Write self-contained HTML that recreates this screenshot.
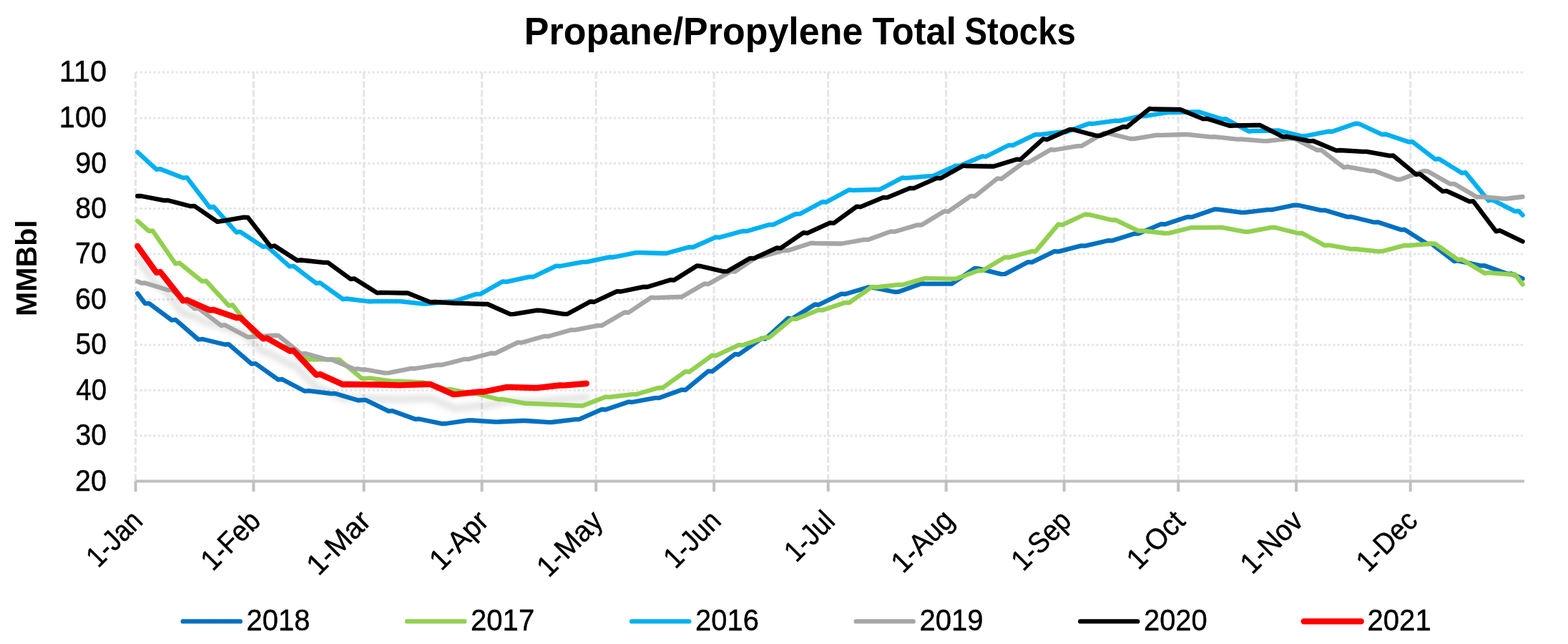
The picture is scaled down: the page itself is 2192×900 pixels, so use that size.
<!DOCTYPE html>
<html lang="en"><head><meta charset="utf-8"><title>Propane/Propylene Total Stocks</title>
<style>html,body{margin:0;padding:0;background:#fff}body{width:2192px;height:900px;overflow:hidden}svg{display:block}text{font-family:"Liberation Sans",sans-serif;fill:#000}</style>
</head><body>
<svg width="2192" height="900" viewBox="0 0 2192 900">
<defs><filter id="sh" x="-5%" y="-30%" width="110%" height="170%"><feGaussianBlur stdDeviation="4.4"/></filter><clipPath id="pc"><rect x="190" y="95" width="1941" height="578"/></clipPath></defs>
<rect width="2192" height="900" fill="#fff"/>
<g stroke="#E5E5E5" stroke-width="3" fill="none">
<line x1="189.5" y1="101.00" x2="2130" y2="101.00" stroke-dasharray="3.123 3.123"/>
<line x1="189.5" y1="165.00" x2="2130" y2="165.00" stroke-dasharray="3.123 3.123"/>
<line x1="189.5" y1="228.30" x2="2130" y2="228.30" stroke-dasharray="3.123 3.123"/>
<line x1="189.5" y1="291.50" x2="2130" y2="291.50" stroke-dasharray="3.123 3.123"/>
<line x1="189.5" y1="355.00" x2="2130" y2="355.00" stroke-dasharray="3.123 3.123"/>
<line x1="189.5" y1="418.60" x2="2130" y2="418.60" stroke-dasharray="3.123 3.123"/>
<line x1="189.5" y1="482.00" x2="2130" y2="482.00" stroke-dasharray="3.123 3.123"/>
<line x1="189.5" y1="545.40" x2="2130" y2="545.40" stroke-dasharray="3.123 3.123"/>
<line x1="189.5" y1="609.00" x2="2130" y2="609.00" stroke-dasharray="3.123 3.123"/>
<line x1="189.50" y1="101" x2="189.50" y2="672" stroke-dasharray="9.36 3.12"/>
<line x1="354.42" y1="101" x2="354.42" y2="672" stroke-dasharray="9.36 3.12"/>
<line x1="508.70" y1="101" x2="508.70" y2="672" stroke-dasharray="9.36 3.12"/>
<line x1="673.62" y1="101" x2="673.62" y2="672" stroke-dasharray="9.36 3.12"/>
<line x1="833.22" y1="101" x2="833.22" y2="672" stroke-dasharray="9.36 3.12"/>
<line x1="998.14" y1="101" x2="998.14" y2="672" stroke-dasharray="9.36 3.12"/>
<line x1="1157.74" y1="101" x2="1157.74" y2="672" stroke-dasharray="9.36 3.12"/>
<line x1="1322.66" y1="101" x2="1322.66" y2="672" stroke-dasharray="9.36 3.12"/>
<line x1="1487.58" y1="101" x2="1487.58" y2="672" stroke-dasharray="9.36 3.12"/>
<line x1="1647.18" y1="101" x2="1647.18" y2="672" stroke-dasharray="9.36 3.12"/>
<line x1="1812.10" y1="101" x2="1812.10" y2="672" stroke-dasharray="9.36 3.12"/>
<line x1="1971.70" y1="101" x2="1971.70" y2="672" stroke-dasharray="9.36 3.12"/>
</g>
<g stroke="#BFBFBF" stroke-width="4" fill="none">
<line x1="189.6" y1="672.6" x2="2131" y2="672.6"/>
<line x1="189.50" y1="672.6" x2="189.50" y2="687"/>
<line x1="354.42" y1="672.6" x2="354.42" y2="687"/>
<line x1="508.70" y1="672.6" x2="508.70" y2="687"/>
<line x1="673.62" y1="672.6" x2="673.62" y2="687"/>
<line x1="833.22" y1="672.6" x2="833.22" y2="687"/>
<line x1="998.14" y1="672.6" x2="998.14" y2="687"/>
<line x1="1157.74" y1="672.6" x2="1157.74" y2="687"/>
<line x1="1322.66" y1="672.6" x2="1322.66" y2="687"/>
<line x1="1487.58" y1="672.6" x2="1487.58" y2="687"/>
<line x1="1647.18" y1="672.6" x2="1647.18" y2="687"/>
<line x1="1812.10" y1="672.6" x2="1812.10" y2="687"/>
<line x1="1971.70" y1="672.6" x2="1971.70" y2="687"/>
</g>
<g fill="none" stroke-linejoin="round" stroke-linecap="round">
<g clip-path="url(#pc)"><path d="M192.2,343.8 L218.8,381.0 L224.1,380.0 L256.0,420.3 L261.3,419.2 L293.2,433.4 L298.6,433.0 L330.5,444.0 L335.8,443.8 L367.7,473.3 L373.0,472.5 L405.0,490.5 L410.3,490.0 L442.2,523.9 L447.5,523.0 L479.4,537.4 L484.8,537.0 L506.0,537.3 L511.4,537.3 L522.0,537.5 L527.3,537.5 L559.2,538.3 L564.6,538.2 L596.5,537.0 L601.8,537.0 L633.7,551.1 L639.0,550.8 L671.0,547.4 L676.3,547.5 L708.2,541.1 L713.5,541.2 L745.4,542.0 L750.8,542.0 L782.7,538.5 L788.0,538.6 L819.9,536.0" stroke="#000" stroke-opacity="0.128" stroke-width="8.3" filter="url(#sh)" transform="translate(1.5,19.5)"/></g>
<path d="M192.2,410.0 L202.8,424.1 L208.1,423.8 L240.0,447.4 L245.4,446.8 L277.3,474.5 L282.6,473.8 L314.5,481.5 L319.8,481.2 L351.8,508.7 L357.1,508.0 L389.0,530.6 L394.3,530.0 L426.2,546.7 L431.6,546.2 L463.5,550.1 L468.8,550.0 L500.7,559.5 L506.0,559.2 L511.4,559.2 L543.3,574.7 L548.6,574.2 L580.5,585.8 L585.8,585.5 L617.8,592.2 L623.1,592.0 L655.0,587.4 L660.3,587.5 L692.2,589.6 L697.6,589.5 L729.5,588.0 L734.8,588.0 L766.7,590.1 L772.0,590.0 L804.0,586.1 L809.3,586.2 L841.2,572.1 L846.5,572.5 L878.4,561.7 L883.8,562.0 L915.7,556.1 L921.0,556.2 L952.9,544.7 L958.2,545.0 L990.2,518.6 L995.5,519.2 L1027.4,494.9 L1032.7,495.5 L1064.6,472.9 L1070.0,473.5 L1101.9,444.7 L1107.2,445.5 L1139.1,425.5 L1144.4,426.0 L1176.4,410.6 L1181.7,411.0 L1213.6,401.4 L1218.9,401.7 L1250.8,408.0 L1256.2,407.8 L1288.1,396.3 L1293.4,396.6 L1330.6,396.6 L1362.6,374.8 L1367.9,375.4 L1399.8,383.1 L1405.1,382.9 L1437.0,366.2 L1442.4,366.6 L1474.3,351.2 L1479.6,351.6 L1511.5,343.4 L1516.8,343.6 L1548.8,336.2 L1554.1,336.4 L1586.0,326.4 L1591.3,326.6 L1623.2,313.1 L1628.6,313.5 L1660.5,303.1 L1665.8,303.4 L1697.7,292.4 L1703.0,292.7 L1735.0,296.9 L1740.3,296.8 L1772.2,293.2 L1777.5,293.2 L1809.4,286.6 L1814.8,286.8 L1846.7,293.9 L1852.0,293.8 L1883.9,303.2 L1889.2,303.0 L1921.2,310.7 L1926.5,310.5 L1958.4,321.1 L1963.7,320.8 L1995.6,341.1 L2001.0,340.6 L2032.9,365.0 L2038.2,364.4 L2070.1,371.4 L2075.4,371.2 L2107.4,382.8 L2112.7,382.5 L2128.6,389.4" stroke="#0070C0" stroke-width="6.3"/>
<path d="M192.2,308.8 L208.1,322.9 L213.4,322.5 L245.4,368.7 L250.7,367.5 L282.6,393.2 L287.9,392.5 L319.8,427.2 L325.2,426.2 L357.1,468.6 L362.4,467.5 L394.3,485.0 L399.6,484.5 L431.6,502.5 L436.9,502.0 L468.8,502.5 L474.1,502.5 L506.0,529.0 L511.4,529.0 L516.7,528.3 L548.6,532.8 L553.9,532.7 L585.8,534.2 L591.2,534.2 L623.1,544.1 L628.4,543.8 L660.3,550.2 L665.6,550.0 L697.6,558.2 L702.9,558.0 L734.8,563.9 L740.1,563.8 L772.0,565.3 L777.4,565.3 L809.3,567.0 L814.6,567.0 L846.5,554.7 L851.8,555.0 L883.8,551.1 L889.1,551.2 L921.0,541.8 L926.3,542.0 L958.2,519.1 L963.6,519.8 L995.5,496.6 L1000.8,497.2 L1032.7,482.1 L1038.0,482.5 L1070.0,471.5 L1075.3,471.8 L1107.2,445.3 L1112.5,446.0 L1144.4,433.2 L1149.8,433.5 L1181.7,422.8 L1187.0,423.1 L1218.9,400.9 L1224.2,401.5 L1256.2,397.9 L1261.5,398.0 L1293.4,388.9 L1298.7,389.1 L1330.6,389.7 L1336.0,389.6 L1367.9,378.1 L1373.2,378.4 L1405.1,359.4 L1410.4,359.9 L1442.4,351.2 L1447.7,351.4 L1479.6,313.4 L1484.9,314.4 L1516.8,299.5 L1522.2,299.9 L1554.1,307.5 L1559.4,307.3 L1591.3,322.7 L1596.6,322.3 L1628.6,326.0 L1633.9,325.9 L1665.8,318.0 L1671.1,318.2 L1703.0,317.9 L1708.4,317.9 L1740.3,323.9 L1745.6,323.8 L1777.5,317.8 L1782.8,318.0 L1814.8,326.0 L1820.1,325.8 L1852.0,343.0 L1857.3,342.5 L1889.2,348.1 L1894.6,348.0 L1926.5,351.3 L1931.8,351.2 L1963.7,342.9 L1969.0,343.1 L2001.0,340.5 L2006.3,340.6 L2038.2,363.1 L2043.5,362.5 L2075.4,381.8 L2080.8,381.2 L2112.7,383.6 L2118.0,383.5 L2128.6,397.5" stroke="#92D050" stroke-width="6.3"/>
<path d="M192.2,212.5 L218.8,236.9 L224.1,236.2 L256.0,248.6 L261.3,248.2 L293.2,289.8 L298.6,288.8 L330.5,324.7 L335.8,323.8 L367.7,344.8 L373.0,344.2 L405.0,372.5 L410.3,371.8 L442.2,395.9 L447.5,395.2 L479.4,418.1 L484.8,417.5 L516.7,421.4 L522.0,421.2 L559.2,421.2 L591.2,424.6 L596.5,424.5 L628.4,421.4 L633.7,421.5 L665.6,411.0 L671.0,411.2 L702.9,393.3 L708.2,393.8 L740.1,386.8 L745.4,387.0 L777.4,371.6 L782.7,372.0 L814.6,366.1 L819.9,366.2 L851.8,359.3 L857.2,359.5 L889.1,353.1 L894.4,353.2 L926.3,354.0 L931.6,354.0 L963.6,345.3 L968.9,345.5 L1000.8,331.4 L1006.1,331.8 L1038.0,323.0 L1043.4,323.2 L1075.3,314.0 L1080.6,314.2 L1112.5,298.8 L1117.8,299.2 L1149.8,282.0 L1155.1,282.5 L1187.0,265.3 L1192.3,265.8 L1224.2,265.0 L1229.6,265.0 L1261.5,248.3 L1266.8,248.8 L1298.7,246.2 L1304.0,246.2 L1336.0,231.6 L1341.3,232.0 L1373.2,218.4 L1378.5,218.8 L1410.4,202.8 L1415.8,203.2 L1447.7,187.8 L1453.0,188.2 L1484.9,184.4 L1490.2,184.5 L1522.2,172.7 L1527.5,173.0 L1559.4,168.6 L1564.7,168.8 L1596.6,161.8 L1602.0,162.0 L1633.9,156.9 L1639.2,157.0 L1671.1,156.5 L1676.4,156.5 L1708.4,166.5 L1713.7,166.2 L1745.6,183.5 L1750.9,183.0 L1782.8,182.5 L1788.2,182.5 L1820.1,190.2 L1825.4,190.0 L1857.3,183.6 L1862.6,183.8 L1894.6,172.7 L1899.9,173.0 L1931.8,187.9 L1937.1,187.5 L1969.0,198.3 L1974.4,198.0 L2006.3,222.6 L2011.6,222.0 L2043.5,241.8 L2048.8,241.2 L2080.8,280.3 L2086.1,279.2 L2118.0,295.4 L2123.3,295.0 L2128.6,300.6" stroke="#00B0F0" stroke-width="6.3"/>
<path d="M192.2,393.2 L197.5,395.6 L202.8,395.5 L234.7,405.3 L240.0,405.0 L272.0,431.4 L277.3,430.8 L309.2,454.9 L314.5,454.2 L346.4,471.2 L351.8,470.8 L383.7,468.7 L389.0,468.8 L420.9,494.4 L426.2,493.8 L458.2,502.7 L463.5,502.5 L495.4,515.9 L500.7,515.5 L506.0,516.5 L511.4,516.5 L538.0,521.4 L543.3,521.2 L575.2,514.8 L580.5,515.0 L612.4,509.9 L617.8,510.0 L649.7,501.8 L655.0,502.0 L686.9,493.5 L692.2,493.8 L724.2,478.3 L729.5,478.8 L761.4,469.8 L766.7,470.0 L798.6,461.0 L804.0,461.2 L835.9,454.8 L841.2,455.0 L873.1,436.5 L878.4,437.0 L910.4,415.7 L915.7,416.2 L947.6,415.0 L952.9,415.0 L984.8,396.5 L990.2,397.0 L1022.1,379.1 L1027.4,379.6 L1059.3,358.2 L1064.6,358.8 L1096.6,349.8 L1101.9,350.0 L1133.8,339.7 L1139.1,340.0 L1171.0,340.5 L1176.4,340.5 L1208.3,334.9 L1213.6,335.0 L1245.5,323.4 L1250.8,323.8 L1282.8,314.3 L1288.1,314.5 L1320.0,295.2 L1325.3,295.8 L1357.2,273.9 L1362.6,274.5 L1394.5,249.3 L1399.8,250.0 L1431.7,226.9 L1437.0,227.5 L1469.0,209.0 L1474.3,209.5 L1506.2,204.1 L1511.5,204.2 L1543.4,185.8 L1548.8,186.2 L1580.7,194.0 L1586.0,193.8 L1617.9,188.6 L1623.2,188.8 L1655.2,188.0 L1660.5,188.0 L1692.4,191.3 L1697.7,191.2 L1729.6,194.6 L1735.0,194.5 L1766.9,197.1 L1772.2,197.0 L1804.1,193.7 L1809.4,193.8 L1841.4,209.9 L1846.7,209.5 L1878.6,233.9 L1883.9,233.2 L1915.8,238.9 L1921.2,238.8 L1953.1,250.8 L1958.4,250.5 L1990.3,238.9 L1995.6,239.2 L2027.6,257.2 L2032.9,256.8 L2064.8,275.5 L2070.1,275.0 L2102.0,277.6 L2107.4,277.5 L2128.6,275.0" stroke="#A6A6A6" stroke-width="6.3"/>
<path d="M192.2,274.0 L197.5,274.0 L229.4,280.2 L234.7,280.0 L266.6,288.2 L272.0,288.0 L303.9,309.8 L309.2,309.2 L341.1,303.6 L346.4,303.8 L378.4,344.6 L383.7,343.5 L415.6,364.0 L420.9,363.5 L452.8,366.8 L458.2,366.8 L490.1,390.0 L495.4,389.4 L527.3,409.3 L532.6,408.8 L564.6,409.5 L569.9,409.5 L601.8,422.3 L607.1,422.0 L639.0,423.8 L644.4,423.8 L676.3,425.0 L681.6,425.0 L713.5,439.1 L718.8,438.8 L750.8,433.6 L756.1,433.8 L788.0,438.9 L793.3,438.8 L825.2,421.5 L830.6,422.0 L862.5,407.1 L867.8,407.5 L899.7,400.8 L905.0,401.0 L937.0,391.2 L942.3,391.5 L974.2,371.5 L979.5,372.0 L1011.4,379.4 L1016.8,379.2 L1048.7,360.8 L1054.0,361.2 L1085.9,346.4 L1091.2,346.8 L1123.2,325.2 L1128.5,325.8 L1160.4,311.4 L1165.7,311.8 L1197.6,288.6 L1203.0,289.2 L1234.9,275.9 L1240.2,276.2 L1272.1,262.9 L1277.4,263.2 L1309.4,248.9 L1314.7,249.2 L1346.6,231.5 L1351.9,232.0 L1383.8,232.5 L1389.2,232.5 L1421.1,222.7 L1426.4,223.0 L1458.3,194.2 L1463.6,195.0 L1495.6,180.9 L1500.9,181.2 L1532.8,189.7 L1538.1,189.5 L1570.0,177.2 L1575.4,177.5 L1607.3,151.8 L1612.6,152.5 L1644.5,153.0 L1649.8,153.0 L1681.8,166.1 L1687.1,165.8 L1719.0,175.8 L1724.3,175.5 L1756.2,175.0 L1761.6,175.0 L1793.5,191.2 L1798.8,190.8 L1830.7,197.2 L1836.0,197.0 L1868.0,210.4 L1873.3,210.0 L1905.2,211.8 L1910.5,211.8 L1942.4,217.7 L1947.8,217.5 L1979.7,243.9 L1985.0,243.2 L2016.9,267.4 L2022.2,266.8 L2054.2,281.6 L2059.5,281.2 L2091.4,323.3 L2096.7,322.2 L2128.6,337.5" stroke="#000000" stroke-width="6.3"/>
<path d="M192.2,343.8 L218.8,381.0 L224.1,380.0 L256.0,420.3 L261.3,419.2 L293.2,433.4 L298.6,433.0 L330.5,444.0 L335.8,443.8 L367.7,473.3 L373.0,472.5 L405.0,490.5 L410.3,490.0 L442.2,523.9 L447.5,523.0 L479.4,537.4 L484.8,537.0 L506.0,537.3 L511.4,537.3 L522.0,537.5 L527.3,537.5 L559.2,538.3 L564.6,538.2 L596.5,537.0 L601.8,537.0 L633.7,551.1 L639.0,550.8 L671.0,547.4 L676.3,547.5 L708.2,541.1 L713.5,541.2 L745.4,542.0 L750.8,542.0 L782.7,538.5 L788.0,538.6 L819.9,536.0" stroke="#FF0000" stroke-width="8.3"/>
</g>
<text y="62.3" font-size="54.5" font-weight="bold"><tspan x="732.8" textLength="473.5" lengthAdjust="spacingAndGlyphs">Propane/Propylene</tspan> <tspan x="1219.6" textLength="117.3" lengthAdjust="spacingAndGlyphs">Total</tspan> <tspan x="1348.5" textLength="155.4" lengthAdjust="spacingAndGlyphs">Stocks</tspan></text>
<text x="82.7" y="114.4" font-size="42" textLength="66.5" lengthAdjust="spacingAndGlyphs" stroke="#000" stroke-width="0.45" stroke-linejoin="round">110</text>
<text x="82.8" y="178.4" font-size="42" textLength="66.3" lengthAdjust="spacingAndGlyphs" stroke="#000" stroke-width="0.45" stroke-linejoin="round">100</text>
<text x="105.2" y="241.7" font-size="42" textLength="43.9" lengthAdjust="spacingAndGlyphs" stroke="#000" stroke-width="0.45" stroke-linejoin="round">90</text>
<text x="105.3" y="304.9" font-size="42" textLength="43.7" lengthAdjust="spacingAndGlyphs" stroke="#000" stroke-width="0.45" stroke-linejoin="round">80</text>
<text x="105.1" y="368.4" font-size="42" textLength="44.0" lengthAdjust="spacingAndGlyphs" stroke="#000" stroke-width="0.45" stroke-linejoin="round">70</text>
<text x="105.1" y="432.0" font-size="42" textLength="44.0" lengthAdjust="spacingAndGlyphs" stroke="#000" stroke-width="0.45" stroke-linejoin="round">60</text>
<text x="105.5" y="495.4" font-size="42" textLength="43.6" lengthAdjust="spacingAndGlyphs" stroke="#000" stroke-width="0.45" stroke-linejoin="round">50</text>
<text x="106.2" y="558.8" font-size="42" textLength="42.9" lengthAdjust="spacingAndGlyphs" stroke="#000" stroke-width="0.45" stroke-linejoin="round">40</text>
<text x="105.6" y="622.4" font-size="42" textLength="43.5" lengthAdjust="spacingAndGlyphs" stroke="#000" stroke-width="0.45" stroke-linejoin="round">30</text>
<text x="105.1" y="685.9" font-size="42" textLength="44.0" lengthAdjust="spacingAndGlyphs" stroke="#000" stroke-width="0.45" stroke-linejoin="round">20</text>
<text transform="translate(51,439.6) rotate(-90)" x="-2.4" y="0" font-size="40" font-weight="bold" textLength="134.7" lengthAdjust="spacingAndGlyphs">MMBbl</text>
<text transform="translate(201.6,730.3) rotate(-45)" x="-91.1" y="0" font-size="41" textLength="90.9" lengthAdjust="spacingAndGlyphs" stroke="#000" stroke-width="0.45" stroke-linejoin="round">1-Jan</text>
<text transform="translate(366.5,730.3) rotate(-45)" x="-97.5" y="0" font-size="41" textLength="97.5" lengthAdjust="spacingAndGlyphs" stroke="#000" stroke-width="0.45" stroke-linejoin="round">1-Feb</text>
<text transform="translate(520.8,730.3) rotate(-45)" x="-107.0" y="0" font-size="41" textLength="106.8" lengthAdjust="spacingAndGlyphs" stroke="#000" stroke-width="0.45" stroke-linejoin="round">1-Mar</text>
<text transform="translate(685.7,730.3) rotate(-45)" x="-97.0" y="0" font-size="41" textLength="96.6" lengthAdjust="spacingAndGlyphs" stroke="#000" stroke-width="0.45" stroke-linejoin="round">1-Apr</text>
<text transform="translate(845.3,730.3) rotate(-45)" x="-110.6" y="0" font-size="41" textLength="110.3" lengthAdjust="spacingAndGlyphs" stroke="#000" stroke-width="0.45" stroke-linejoin="round">1-May</text>
<text transform="translate(1010.2,730.3) rotate(-45)" x="-93.2" y="0" font-size="41" textLength="93.0" lengthAdjust="spacingAndGlyphs" stroke="#000" stroke-width="0.45" stroke-linejoin="round">1-Jun</text>
<text transform="translate(1169.8,730.3) rotate(-45)" x="-80.4" y="0" font-size="41" textLength="79.8" lengthAdjust="spacingAndGlyphs" stroke="#000" stroke-width="0.45" stroke-linejoin="round">1-Jul</text>
<text transform="translate(1334.8,730.3) rotate(-45)" x="-102.2" y="0" font-size="41" textLength="103.9" lengthAdjust="spacingAndGlyphs" stroke="#000" stroke-width="0.45" stroke-linejoin="round">1-Aug</text>
<text transform="translate(1499.7,730.3) rotate(-45)" x="-98.0" y="0" font-size="41" textLength="98.0" lengthAdjust="spacingAndGlyphs" stroke="#000" stroke-width="0.45" stroke-linejoin="round">1-Sep</text>
<text transform="translate(1659.3,730.3) rotate(-45)" x="-95.5" y="0" font-size="41" textLength="94.9" lengthAdjust="spacingAndGlyphs" stroke="#000" stroke-width="0.45" stroke-linejoin="round">1-Oct</text>
<text transform="translate(1824.2,730.3) rotate(-45)" x="-104.1" y="0" font-size="41" textLength="103.8" lengthAdjust="spacingAndGlyphs" stroke="#000" stroke-width="0.45" stroke-linejoin="round">1-Nov</text>
<text transform="translate(1983.8,730.3) rotate(-45)" x="-100.4" y="0" font-size="41" textLength="100.5" lengthAdjust="spacingAndGlyphs" stroke="#000" stroke-width="0.45" stroke-linejoin="round">1-Dec</text>
<line x1="255.7" y1="868.4" x2="335.9" y2="868.4" stroke="#0070C0" stroke-width="6.3" stroke-linecap="round"/>
<text x="344.5" y="880.8" font-size="42" textLength="88.9" lengthAdjust="spacingAndGlyphs" stroke="#000" stroke-width="0.45" stroke-linejoin="round">2018</text>
<line x1="569.1" y1="868.4" x2="649.4" y2="868.4" stroke="#92D050" stroke-width="6.3" stroke-linecap="round"/>
<text x="658.0" y="880.8" font-size="42" textLength="89.2" lengthAdjust="spacingAndGlyphs" stroke="#000" stroke-width="0.45" stroke-linejoin="round">2017</text>
<line x1="883.1" y1="868.4" x2="963.4" y2="868.4" stroke="#00B0F0" stroke-width="6.3" stroke-linecap="round"/>
<text x="972.0" y="880.8" font-size="42" textLength="88.9" lengthAdjust="spacingAndGlyphs" stroke="#000" stroke-width="0.45" stroke-linejoin="round">2016</text>
<line x1="1196.7" y1="868.4" x2="1276.8" y2="868.4" stroke="#A6A6A6" stroke-width="6.3" stroke-linecap="round"/>
<text x="1285.5" y="880.8" font-size="42" textLength="89.1" lengthAdjust="spacingAndGlyphs" stroke="#000" stroke-width="0.45" stroke-linejoin="round">2019</text>
<line x1="1510.2" y1="868.4" x2="1590.3" y2="868.4" stroke="#000000" stroke-width="6.3" stroke-linecap="round"/>
<text x="1599.0" y="880.8" font-size="42" textLength="88.7" lengthAdjust="spacingAndGlyphs" stroke="#000" stroke-width="0.45" stroke-linejoin="round">2020</text>
<line x1="1822.7" y1="868.4" x2="1902.8" y2="868.4" stroke="#FF0000" stroke-width="8.3" stroke-linecap="round"/>
<text x="1911.5" y="880.8" font-size="42" textLength="89.2" lengthAdjust="spacingAndGlyphs" stroke="#000" stroke-width="0.45" stroke-linejoin="round">2021</text>
</svg>
</body></html>
